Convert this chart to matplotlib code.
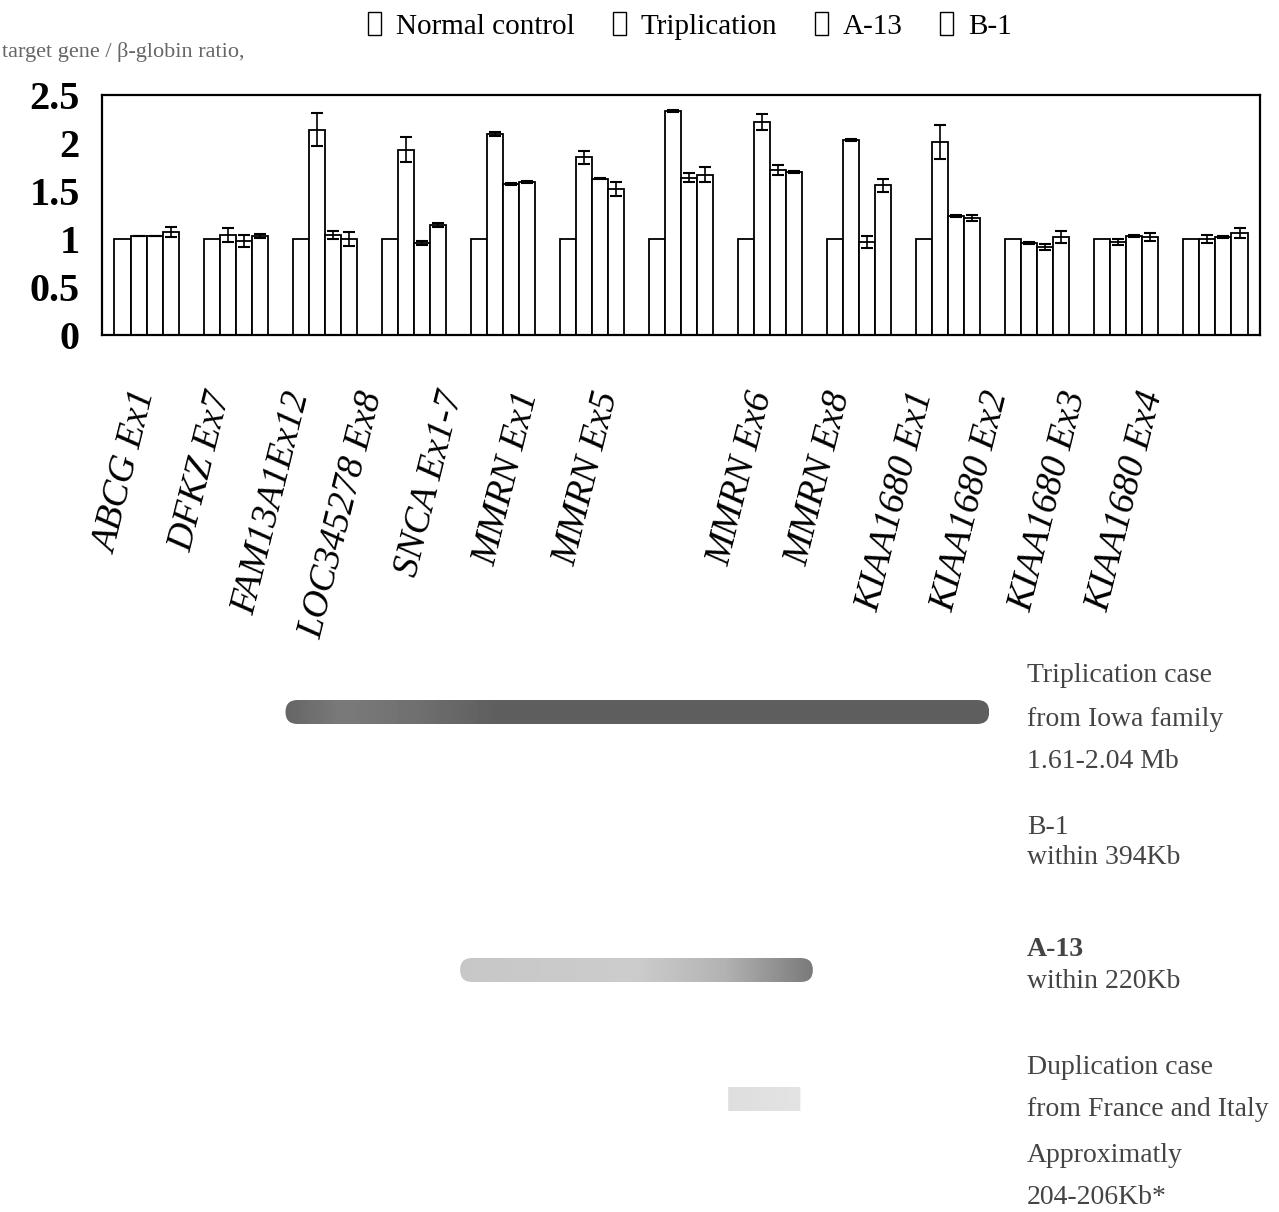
import matplotlib
matplotlib.use('Agg')
import matplotlib.pyplot as plt
import numpy as np
from matplotlib.patches import FancyBboxPatch, Patch

W, H = 1279, 1212
plt.rcParams['font.family'] = ['Liberation Serif', 'DejaVu Serif']

# ---------------- data ----------------
genes = ['ABCG Ex1', 'DFKZ Ex7', 'FAM13A1Ex12', 'LOC345278 Ex8', 'SNCA Ex1-7',
         'MMRN Ex1', 'MMRN Ex5', 'MMRN Ex6', 'MMRN Ex8',
         'KIAA1680 Ex1', 'KIAA1680 Ex2', 'KIAA1680 Ex3', 'KIAA1680 Ex4']
series = ['Normal control', 'Triplication', 'A-13', 'B-1']

normal = [1.0, 1.0, 1.0, 1.0, 1.0, 1.0, 1.0, 1.0, 1.0, 1.0, 1.0, 1.0, 1.0]
triplication = [1.03, 1.04, 2.14, 1.93, 2.09, 1.85, 2.33, 2.22, 2.03, 2.01, 0.96, 0.97, 1.00]
triplication_err = [0.00, 0.07, 0.17, 0.13, 0.02, 0.07, 0.01, 0.08, 0.01, 0.18, 0.01, 0.03, 0.04]
a13 = [1.03, 0.98, 1.04, 0.96, 1.57, 1.63, 1.64, 1.72, 0.97, 1.24, 0.92, 1.03, 1.02]
a13_err = [0.00, 0.06, 0.04, 0.02, 0.01, 0.01, 0.05, 0.05, 0.06, 0.01, 0.03, 0.01, 0.01]
b1 = [1.07, 1.03, 1.00, 1.15, 1.59, 1.52, 1.67, 1.70, 1.56, 1.22, 1.02, 1.02, 1.06]
b1_err = [0.05, 0.02, 0.07, 0.02, 0.01, 0.07, 0.08, 0.01, 0.07, 0.03, 0.06, 0.04, 0.05]

yticks = [0, 0.5, 1, 1.5, 2, 2.5]
ytick_labels = ['0', '0.5', '1', '1.5', '2', '2.5']

# duplicated regions (in gene-position units along the x axis)
regions = ['Triplication', 'B-1', 'A-13', 'Duplication']
region_start = [1.56, np.nan, 3.52, 6.53]
region_end = [9.46, np.nan, 7.48, 7.34]

# ---------------- figure ----------------
fig = plt.figure(figsize=(W / 100, H / 100), dpi=100)
fig.patch.set_facecolor('white')

ax = fig.add_axes([102 / W, 1 - 335 / H, 1158 / W, 240 / H])
x = np.arange(len(genes))
w = 0.18
vals = [normal, triplication, a13, b1]
errs = [None, triplication_err, a13_err, b1_err]
for i, (v, e) in enumerate(zip(vals, errs)):
    ax.bar(x + (i - 1.5) * w, v, w, yerr=e, facecolor='white', edgecolor='black',
           linewidth=1.3,
           error_kw=dict(ecolor='black', elinewidth=1.2, capsize=4, capthick=1.5))
ax.set_xlim(-0.5, len(genes) - 0.5)
ax.set_ylim(0, 2.5)
ax.set_yticks(yticks)
ax.set_yticklabels(ytick_labels, fontsize=29, fontweight='bold')
ax.tick_params(axis='y', length=0, pad=16)
ax.set_xticks([])
for s in ax.spines.values():
    s.set_linewidth(1.6)

# x labels (placed manually as in the original figure)
label_end_px = [146, 221, 299, 373, 453, 529, 609, 763, 841, 923, 998, 1076, 1153]
for lab, px in zip(genes, label_end_px):
    fig.text(px / W, 1 - 392 / H, lab, rotation=76, ha='right', va='center',
             rotation_mode='anchor', fontsize=27, fontstyle='italic')

# legend
handles = [Patch(facecolor='white', edgecolor='black', linewidth=1.0) for _ in series]
fig.legend(handles, series, loc='center', bbox_to_anchor=(690 / W, 1 - 26 / H),
           ncol=4, frameon=False, fontsize=21, handlelength=0.45, handleheight=0.85,
           columnspacing=1.3, handletextpad=0.5, borderpad=0)

fig.text(2 / W, 1 - 52 / H, 'target gene / β-globin ratio,', fontsize=16,
         color='#666666', va='center', ha='left')

# ---------------- region bars ----------------
ax2 = fig.add_axes([102 / W, 1 - 1163.5 / H, 1158 / W, 516 / H])
ax2.axis('off')
half = 12 / 129
stops = {
    'Triplication': ([0, 0.08, 0.18, 0.3, 1.0], [0.40, 0.48, 0.44, 0.37, 0.37]),
    'A-13': ([0, 0.5, 0.75, 1.0], [0.78, 0.8, 0.7, 0.48]),
    'Duplication': ([0, 1.0], [0.87, 0.89]),
}
for row, (name, x0, x1) in enumerate(zip(regions, region_start, region_end)):
    if np.isnan(x0):
        continue
    rounding = 0.135 if name != 'Duplication' else 0.0
    patch = FancyBboxPatch((x0, row - half), x1 - x0, 2 * half,
                           boxstyle=f"round,pad=0,rounding_size={rounding}",
                           mutation_aspect=half / 0.135,
                           facecolor='none', edgecolor='none')
    ax2.add_patch(patch)
    sx, sv = stops[name]
    grad = np.interp(np.linspace(0, 1, 200), sx, sv)[None, :]
    im = ax2.imshow(grad, cmap='gray', vmin=0, vmax=1, aspect='auto',
                    extent=[x0, x1, row + half, row - half], interpolation='bilinear')
    im.set_clip_path(patch)
ax2.set_xlim(-0.5, len(genes) - 0.5)
ax2.set_ylim(3.5, -0.5)

# right-side annotations
txt = [
    ('Triplication case', 676, 'normal'),
    ('from Iowa family', 720, 'normal'),
    ('1.61-2.04 Mb', 762, 'normal'),
    ('B-1', 828, 'normal'),
    ('within 394Kb', 858, 'normal'),
    ('A-13', 950, 'bold'),
    ('within 220Kb', 982, 'normal'),
    ('Duplication case', 1068, 'normal'),
    ('from France and Italy', 1110, 'normal'),
    ('Approximatly', 1155, 'normal'),
    ('204-206Kb*', 1198, 'normal'),
]
for t, ypx, fw in txt:
    fig.text(1027 / W, 1 - ypx / H, t, fontsize=20, color='#444444',
             va='center', ha='left', fontweight=fw)

fig.savefig('out.png', dpi=100, facecolor='white')
